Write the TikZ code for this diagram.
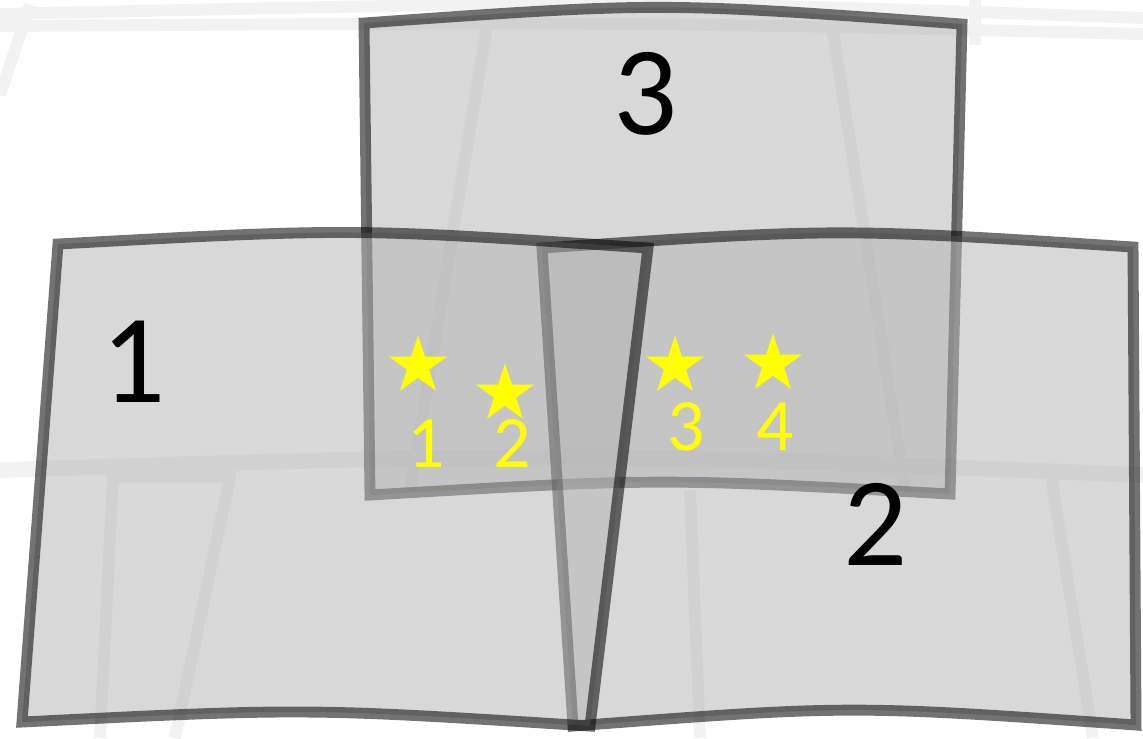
\documentclass[tikz,border=0pt]{standalone}
\usepackage{fontspec}
\setmainfont{Carlito}
\usepackage{tikz}
\usetikzlibrary{shapes.geometric}
\definecolor{tilegrey}{HTML}{B4B4B4}
\definecolor{staryellow}{HTML}{FFFF00}

\begin{document}
\begin{tikzpicture}[x=0.01cm, y=-0.01cm,
        tile/.style={fill=tilegrey, fill opacity=0.52, draw=black, draw opacity=0.55, line width=3.1pt, line join=miter},
        ghost/.style={draw=black!5, line width=3.4pt},
        big/.style={font=\fontsize{36}{40}\selectfont, inner sep=0pt},
        small/.style={font=\fontsize{21}{24}\selectfont, text=staryellow, inner sep=0pt},
        pin/.style={star, star points=5, star point ratio=2.6, fill=staryellow, minimum size=0.61cm, inner sep=0pt}]
        \useasboundingbox (0,0) rectangle (1143,738);
        % faint lines of the picture underneath
        \draw[ghost] (0,14) .. controls (640,0) .. (1143,18);
        \draw[ghost] (0,26) .. controls (640,22) .. (1143,34);
        \draw[ghost, line width=4.5pt] (0,470) .. controls (570,452) .. (1143,475);
        \draw[ghost] (30,5) -- (0,95);
        \draw[ghost] (975,0) -- (975,45);
        \draw[ghost] (488,20) -- (410,490);
        \draw[ghost] (831,20) -- (905,490);
        \draw[ghost] (100,738) -- (113,477) -- (230,477) -- (175,738);
        \draw[ghost] (1050,470) -- (1093,738);
        \draw[ghost] (690,490) -- (700,738);
        % the three tiles, 3 lowest and 1 on top
        \draw[tile] (364,23) .. controls (660,2) .. (962,24) -- (950,494)
              .. controls (660,478) .. (370,495) -- cycle;
        \draw[tile] (542,248) .. controls (838,228) .. (1133,247) -- (1136,725)
              .. controls (850,705) .. (573,726) -- cycle;
        \draw[tile] (58,244) .. controls (353,228) .. (648,248) -- (590,726)
              .. controls (306,708) .. (22,722) -- cycle;
        % tile numbers
        \node[big] (n1) at (134,362) {1};
        \node[big] (n2) at (876,524) {2};
        \node[big] (n3) at (646,94) {3};
        % stars and their numbers
        \node[pin] (s1) at (418,366) {};
        \node[pin] (s2) at (505,394) {};
        \node[pin] (s3) at (675,366) {};
        \node[pin] (s4) at (773,364) {};
        \node[small] (l1) at (426,444) {1};
        \node[small] (l2) at (512,444) {2};
        \node[small] (l3) at (686,427) {3};
        \node[small] (l4) at (775,427) {4};
      \end{tikzpicture}
\end{document}
